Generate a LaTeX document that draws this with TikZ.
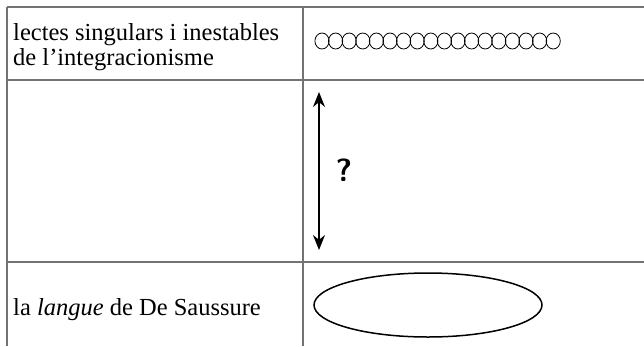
\documentclass[tikz,border=0pt]{standalone}
\usepackage{fontspec}
\setmainfont{Liberation Serif}
\usetikzlibrary{arrows.meta}

\begin{document}
\begin{tikzpicture}[x=1pt, y=-1pt,
		rule/.style={draw=black!55, line width=1.5pt},
		cell/.style={anchor=north west, inner sep=0pt, align=left, font=\fontsize{24.5}{25}\selectfont},
		bead/.style={draw, line width=0.8pt}]
				\useasboundingbox (0,0) rectangle (644,346);
				%table rules
				\draw[rule] (7,7) -- (644,7);
				\draw[rule] (7,80) -- (644,80);
				\draw[rule] (7,262) -- (644,262);
				\draw[rule] (7,7) -- (7,346);
				\draw[rule] (303,7) -- (303,346);
				%left column
				\node[cell] (lectes) at (13,23) {lectes singulars i inestables\\de l'integracionisme};
				\node[cell, anchor=base west] (langue) at (13,315) {la \textit{langue} de De Saussure};
				%row of small lects
				\foreach \i in {0,...,17}
					\draw[bead] (322+13.6*\i,41) ellipse (7.1 and 8);
				%arrow between the rows
				\coordinate (up) at (319,92);
				\coordinate (down) at (319,250);
				\draw[{Stealth[length=15pt,width=12pt]}-{Stealth[length=15pt,width=12pt]}, line width=1.5pt] (up) -- (down);
				\node[font=\sffamily\bfseries\fontsize{32}{32}\selectfont] (quest) at (344,170) {?};
				%the langue
				\draw[line width=1.5pt] (428,305) ellipse (114 and 32);
			\end{tikzpicture}
\end{document}
